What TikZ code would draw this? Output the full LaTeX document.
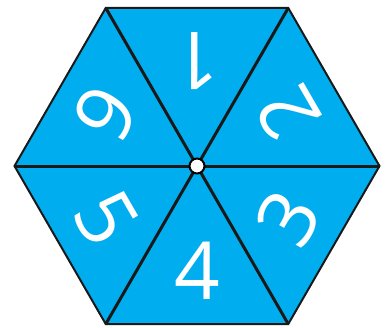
\documentclass[tikz,border=0pt]{standalone}
\usepackage{fontspec}
\setmainfont{Open Sans}
\definecolor{hexblue}{HTML}{00AEEF}
\begin{document}
\begin{tikzpicture}[x=1pt,y=1pt,
  edge/.style={draw=black!90,line width=3pt},
  num/.style={text=white,font=\fontsize{80}{80}\selectfont,inner sep=0pt,anchor=center}]
\useasboundingbox (-197,-161) rectangle (193,166);
\coordinate (c) at (0,0);
\foreach \i in {0,...,5}{\coordinate (v\i) at (\i*60:182.5);}
\fill[hexblue] (v0)--(v1)--(v2)--(v3)--(v4)--(v5)--cycle;
\foreach \i in {0,...,5}{\draw[edge] (c)--(v\i);}
\draw[edge,line width=2pt,line join=miter] (v0)--(v1)--(v2)--(v3)--(v4)--(v5)--cycle;
\node[num,rotate=180] (n1) at (90:105) {1};
\node[num,rotate=120] (n2) at (30:105) {2};
\node[num,rotate=60] (n3) at (-30:105) {3};
\node[num,rotate=0] (n4) at (-90:105) {4};
\node[num,rotate=-60] (n5) at (210:105) {5};
\node[num,rotate=240] (n6) at (150:105) {6};
\node[circle,fill=white,draw=black,line width=2pt,minimum size=15pt,inner sep=0pt] (hub) at (c) {};
\end{tikzpicture}
\end{document}
